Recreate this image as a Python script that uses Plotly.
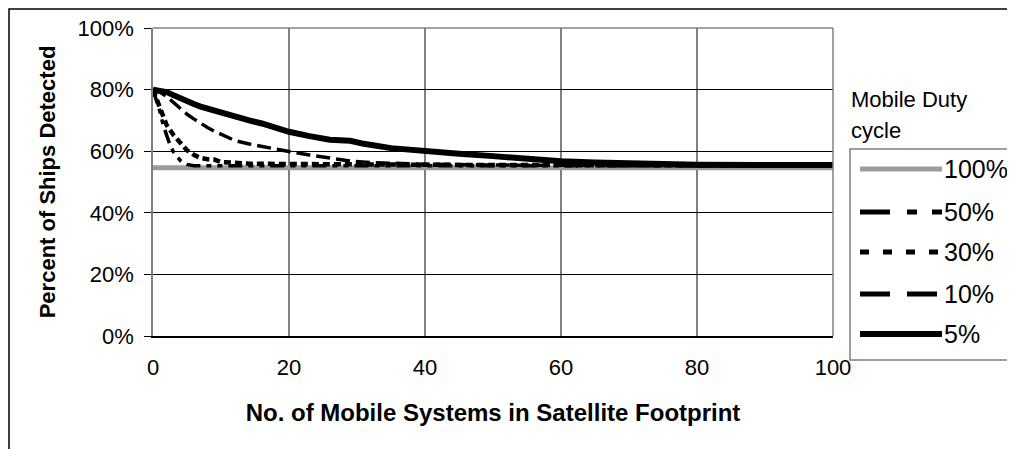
import plotly.graph_objects as go

# ---- data ----
series_names = ["100%", "50%", "30%", "10%", "5%"]

x_100 = [0, 10, 20, 30, 40, 50, 60, 70, 80, 90, 100]
y_100 = [0.546] * 11

x_50 = [0, 0.5, 1, 1.5, 2, 2.5, 3, 3.5, 4, 4.5, 5, 6, 8, 10, 20, 40, 60, 80, 100]
y_50 = [0.80, 0.765, 0.73, 0.685, 0.65, 0.62, 0.598, 0.582, 0.57, 0.562, 0.557, 0.553,
        0.553, 0.553, 0.553, 0.553, 0.553, 0.553, 0.553]

x_30 = [0, 1, 2, 3, 4, 5, 6, 7, 8, 9, 10, 12, 14, 16, 20, 30, 40, 50, 70, 100]
y_30 = [0.80, 0.739, 0.685, 0.653, 0.626, 0.603, 0.588, 0.578, 0.574, 0.573, 0.565,
        0.561, 0.560, 0.559, 0.558, 0.557, 0.556, 0.555, 0.554, 0.554]

x_10 = [0, 1, 2, 3, 4, 5, 6, 7, 8, 9, 10, 12, 14, 16, 18, 20, 23, 26, 29, 32, 36, 40,
        50, 60, 70, 80, 100]
y_10 = [0.80, 0.792, 0.778, 0.758, 0.738, 0.72, 0.705, 0.69, 0.677, 0.665, 0.655,
        0.635, 0.624, 0.615, 0.607, 0.599, 0.588, 0.578, 0.568, 0.563, 0.560, 0.558,
        0.555, 0.554, 0.553, 0.553, 0.553]

x_5 = [0, 1, 2, 3, 4, 5, 6, 7, 8, 9, 10, 12, 14, 16, 18, 20, 23, 26, 29, 31, 35, 38,
       40, 45, 50, 55, 60, 65, 70, 75, 80, 90, 100]
y_5 = [0.80, 0.797, 0.792, 0.782, 0.771, 0.761, 0.753, 0.745, 0.738, 0.731, 0.725,
       0.713, 0.701, 0.69, 0.675, 0.663, 0.649, 0.637, 0.634, 0.624, 0.61, 0.604,
       0.599, 0.592, 0.584, 0.574, 0.567, 0.563, 0.560, 0.558, 0.556, 0.555, 0.555]

series_x = [x_100, x_50, x_30, x_10, x_5]
series_y = [y_100, y_50, y_30, y_10, y_5]

x_ticks = [0, 20, 40, 60, 80, 100]
y_ticks = [0, 0.2, 0.4, 0.6, 0.8, 1.0]
y_tick_labels = ["0%", "20%", "40%", "60%", "80%", "100%"]

# ---- styles ----
colors = ["#9c9c9c", "black", "black", "black", "black"]
widths = [5, 3.5, 4.5, 3.5, 6]
dashes = ["solid", "14px,6px,5px,6px,5px,6px", "7px,4px", "14px,6px", "solid"]
legend_dashes = ["solid", "30px,17px,10px,15px,10px,15px", "9px,14px", "30px,17px", "solid"]

FONT = "Liberation Sans, Arial, sans-serif"

# page has an 8px body margin: work in page pixels and shift
OFF = 8
W, H = 1015 - OFF, 449 - OFF
L, R, T, B = 153 - OFF, 833 - OFF, 28 - OFF, 336 - OFF


def px2paper_x(px):
    return (px - OFF - L) / (R - L)


def px2paper_y(py):
    return (B - (py - OFF)) / (B - T)


fig = go.Figure()
for name, xs, ys, c, w, d in zip(series_names, series_x, series_y, colors, widths, dashes):
    fig.add_trace(go.Scatter(x=xs, y=ys, mode="lines", name=name,
                             line=dict(color=c, width=w, dash=d), showlegend=False))

shapes = []
annotations = []

# outer chart frame
shapes.append(dict(type="rect", xref="paper", yref="paper",
                   x0=px2paper_x(9), x1=px2paper_x(1040),
                   y0=px2paper_y(480), y1=px2paper_y(9),
                   line=dict(color="black", width=1.5), layer="below"))

# plot-area top & right border (gray)
shapes.append(dict(type="line", xref="paper", yref="paper", x0=0, x1=1, y0=1, y1=1,
                   line=dict(color="#808080", width=1.5)))
shapes.append(dict(type="line", xref="paper", yref="paper", x0=1, x1=1, y0=0, y1=1,
                   line=dict(color="#808080", width=1.5)))

# legend box
shapes.append(dict(type="rect", xref="paper", yref="paper",
                   x0=px2paper_x(850), x1=px2paper_x(1040),
                   y0=px2paper_y(360), y1=px2paper_y(149),
                   line=dict(color="#808080", width=1.5), fillcolor="white"))

annotations.append(dict(text="Mobile Duty", xref="paper", yref="paper",
                        x=px2paper_x(849), y=px2paper_y(99), xanchor="left", yanchor="middle",
                        showarrow=False, font=dict(family=FONT, size=22, color="black")))
annotations.append(dict(text="cycle", xref="paper", yref="paper",
                        x=px2paper_x(849), y=px2paper_y(131), xanchor="left", yanchor="middle",
                        showarrow=False, font=dict(family=FONT, size=22, color="black")))

legend_y = [169, 212, 252, 294, 334]
for name, c, w, d, ly in zip(series_names, colors, widths, legend_dashes, legend_y):
    shapes.append(dict(type="line", xref="paper", yref="paper",
                       x0=px2paper_x(860), x1=px2paper_x(942),
                       y0=px2paper_y(ly), y1=px2paper_y(ly),
                       line=dict(color=c, width=5 if name != "5%" else 6, dash=d)))
    annotations.append(dict(text=name, xref="paper", yref="paper",
                            x=px2paper_x(942), y=px2paper_y(ly), xanchor="left",
                            yanchor="middle", showarrow=False,
                            font=dict(family=FONT, size=25, color="black")))

fig.update_layout(
    width=W, height=H,
    margin=dict(l=L, r=W - R, t=T, b=H - B, autoexpand=False),
    paper_bgcolor="white", plot_bgcolor="white",
    font=dict(family=FONT, color="black"),
    shapes=shapes, annotations=annotations,
    xaxis=dict(range=[0, 100], tickvals=x_ticks, ticks="", showgrid=True,
               gridcolor="#808080", gridwidth=1.5, zeroline=False,
               showline=True, linecolor="black", linewidth=1.5,
               tickfont=dict(family=FONT, size=22), ticklabelstandoff=11,
               title=dict(text="<b>No. of Mobile Systems in Satellite Footprint</b>",
                          font=dict(family=FONT, size=24), standoff=25)),
    yaxis=dict(range=[0, 1], tickvals=y_ticks, ticktext=y_tick_labels,
               ticks="outside", ticklen=7, tickcolor="black", showgrid=True,
               gridcolor="black", gridwidth=1.2, zeroline=False,
               showline=True, linecolor="#808080", linewidth=1.5,
               tickfont=dict(family=FONT, size=22), ticklabelstandoff=6,
               title=dict(text="<b>Percent of Ships Detected</b>",
                          font=dict(family=FONT, size=22), standoff=16)),
)

fig.write_html("out.html")
